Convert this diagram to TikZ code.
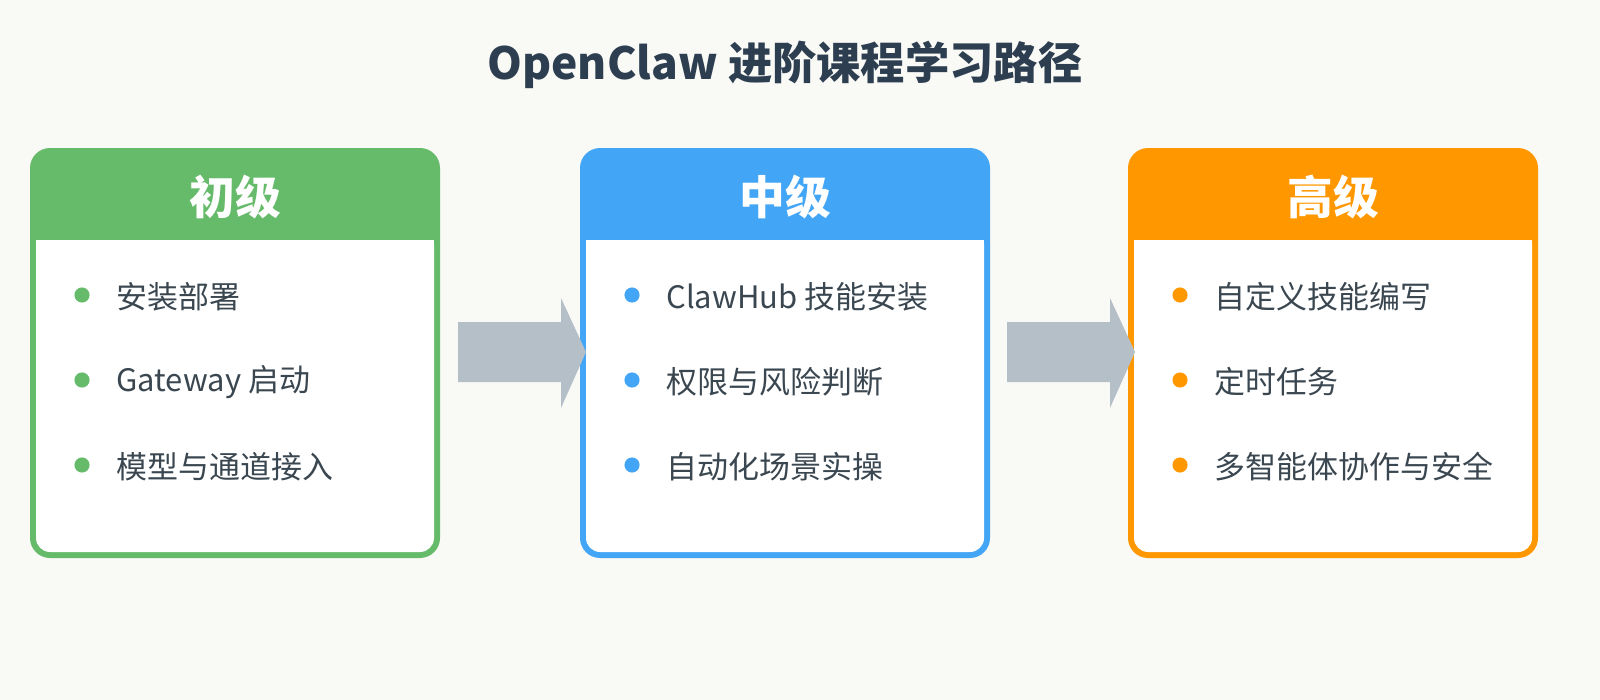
\documentclass[tikz,border=0pt]{standalone}
\usepackage{fontspec}
\setmainfont{Noto Sans CJK SC}
\usetikzlibrary{positioning}
\definecolor{bgpaper}{HTML}{F9F9F6}
\definecolor{titleink}{HTML}{2C3E50}
\definecolor{itemink}{HTML}{3A4750}
\definecolor{lvgreen}{HTML}{66BB6A}
\definecolor{lvblue}{HTML}{42A5F5}
\definecolor{lvorange}{HTML}{FF9800}
\definecolor{arrowgray}{HTML}{B5BFC8}
\tikzset{
  head text/.style={text=white,font=\fontsize{13}{15}\selectfont\bfseries},
  item text/.style={text=itemink,font=\fontsize{8.8}{11}\selectfont,anchor=west},
  bullet/.style={circle,inner sep=0pt,minimum size=4.3pt,fill=#1},
  step arrow/.style={fill=arrowgray}
}
% one level card: name, left x, colour, title, items
\newcommand{\levelcard}[5]{%
  \fill[#3,rounded corners=5.7pt] (#2,148) rectangle ++(410,410);
  \fill[white,rounded corners=4pt] (#2+6,230) rectangle ++(398,322);
  \fill[white] (#2+6,240) rectangle ++(398,30);
  \fill[#3] (#2+6,228) rectangle ++(398,12);
  \node[head text] (#1head) at (#2+205,197) {#4};
  \coordinate (#1) at (#2,295);
  \foreach \txt [count=\i from 0] in {#5} {
    \node[bullet=#3] (#1b\i) at (#2+52,295+85*\i) {};
    \node[item text] (#1t\i) at (#2+74,297+85*\i) {\txt};
  }%
}
\begin{document}
\begin{tikzpicture}[x=0.01cm,y=-0.01cm]
  \fill[bgpaper] (0,0) rectangle (1600,700);

  \node[text=titleink,font=\fontsize{12.6}{15}\selectfont\bfseries] (title) at (785,65) {OpenClaw 进阶课程学习路径};

  \levelcard{basic}{30}{lvgreen}{初级}{安装部署,Gateway 启动,模型与通道接入}
  \levelcard{middle}{580}{lvblue}{中级}{ClawHub 技能安装,权限与风险判断,自动化场景实操}
  \levelcard{senior}{1128}{lvorange}{高级}{自定义技能编写,定时任务,多智能体协作与安全}

  % Arrows between cards
  \foreach \ax in {458,1007} {
    \fill[step arrow] (\ax,322) -- (\ax+103,322) -- (\ax+103,298) -- (\ax+128,352)
      -- (\ax+103,408) -- (\ax+103,382) -- (\ax,382) -- cycle;
  }
  \pgfresetboundingbox
  \useasboundingbox (0,0) rectangle (1600,700);
\end{tikzpicture}
\end{document}
